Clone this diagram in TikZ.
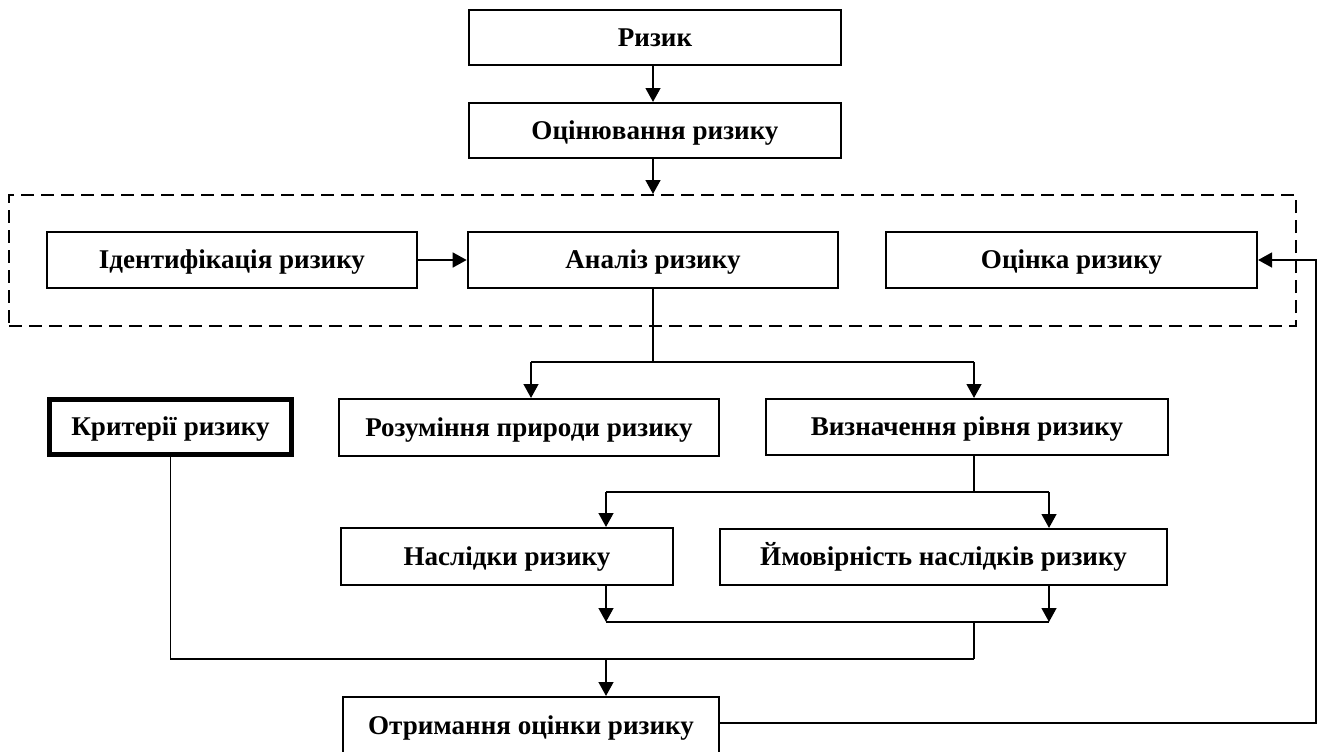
\documentclass[tikz,border=0pt]{standalone}
\usepackage{fontspec}
\setmainfont{Liberation Serif}
\usetikzlibrary{arrows.meta}
\begin{document}
\begin{tikzpicture}[x=0.75pt,y=-0.75pt,
  box/.style={draw,line width=1.5pt,inner sep=0pt,align=center,
    text height=13.4pt,text depth=0pt,
    font=\bfseries\fontsize{20.3}{23}\selectfont},
  thinline/.style={line width=0.95pt},
  midline/.style={line width=1.4pt},
  arr/.style={line width=1.8pt,-{Triangle[length=10.5pt,width=11pt]}},
  grpbox/.style={draw,line width=1.4pt,dash pattern=on 10pt off 5pt,inner sep=0pt}]
\useasboundingbox (0,0) rectangle (1320,751);
% nodes
\node[grpbox,minimum width=965.25pt,minimum height=98.25pt] (grp) at (652.5,260.5) {};
\node[box,minimum width=279pt,minimum height=41.25pt] (riz) at (655,37.5) {Ризик};
\node[box,minimum width=279pt,minimum height=41.25pt] (otsin) at (655,130.5) {Оцінювання ризику};
\node[box,minimum width=277.5pt,minimum height=42pt] (ident) at (232,260) {Ідентифікація ризику};
\node[box,minimum width=277.9pt,minimum height=42pt] (anal) at (653,260) {Аналіз ризику};
\node[box,minimum width=278.25pt,minimum height=42pt] (otsinka) at (1071.5,260) {Оцінка ризику};
\node[box,line width=4.2pt,minimum width=181.5pt,minimum height=41.25pt] (kryt) at (170.5,427) {Критерії ризику};
\node[box,minimum width=285pt,minimum height=42.75pt] (rozum) at (529,427.5) {Розуміння природи ризику};
\node[box,minimum width=301.5pt,minimum height=42pt] (vyzn) at (967,427) {Визначення рівня ризику};
\node[box,minimum width=249pt,minimum height=42.75pt] (nasl) at (507,556.5) {Наслідки ризику};
\node[box,minimum width=335.25pt,minimum height=42pt] (ymov) at (943.5,557) {Ймовірність наслідків ризику};
\node[box,minimum width=282.4pt,minimum height=42.75pt] (otrym) at (531,725.5) {Отримання оцінки ризику};
% junction coordinates
\coordinate (j1) at (653,362);
\coordinate (jl) at (531,362);
\coordinate (jr) at (974,362);
\coordinate (kl) at (606,492);
\coordinate (kr) at (1049,492);
\coordinate (kc) at (974,492);
\coordinate (ml) at (606,622);
\coordinate (mr) at (1049,622);
\coordinate (mc) at (974,622);
\coordinate (nl) at (170.5,659);
\coordinate (nr) at (974,659);
\coordinate (nc) at (606,659);
\coordinate (fb) at (1316,723);
% connectors
\draw[arr] (riz.south -| 653,0) -- (otsin.north -| 653,0);
\draw[arr] (otsin.south -| 653,0) -- (grp.north -| 653,0);
\draw[arr] (ident.east) -- (anal.west);
\draw[thinline] (anal.south) -- (j1);
\draw[midline] (jl) -- (jr);
\draw[arr] (jl) -- (jl |- rozum.north);
\draw[arr] (jr) -- (jr |- vyzn.north);
\draw[thinline] (kc |- vyzn.south) -- (kc);
\draw[midline] (kl) -- (kr);
\draw[arr] (kl) -- (kl |- nasl.north);
\draw[arr] (kr) -- (kr |- ymov.north);
\draw[arr] (ml |- nasl.south) -- (ml);
\draw[arr] (mr |- ymov.south) -- (mr);
\draw[thinline] (ml) -- (mr);
\draw[thinline] (mc) -- (nr);
\draw[thinline] (kryt.south) -- (nl) -- (nr);
\draw[arr] (nc) -- (nc |- otrym.north);
\draw[arr] (otrym.east |- fb) -- (fb) |- (otsinka.east);
\end{tikzpicture}
\end{document}
